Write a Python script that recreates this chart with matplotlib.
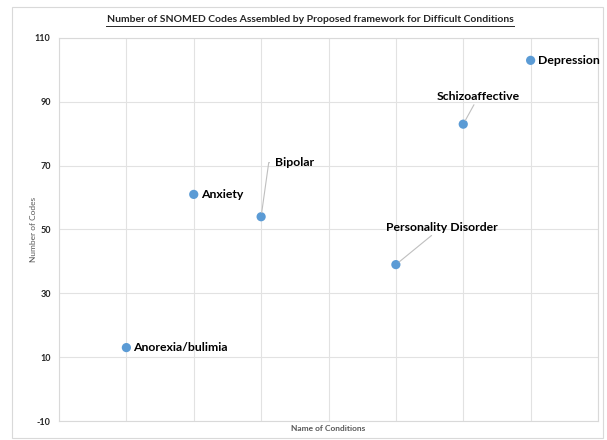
import matplotlib
matplotlib.use("Agg")
import matplotlib.pyplot as plt
from matplotlib.patches import Rectangle

plt.rcParams['font.family'] = ['Lato', 'DejaVu Sans']
plt.rcParams['axes.unicode_minus'] = False

conditions = ["Anorexia/bulimia", "Anxiety", "Bipolar", "Personality Disorder", "Schizoaffective", "Depression"]
x_pos = [1, 2, 3, 5, 6, 7]
codes = [13, 61, 54, 39, 83, 103]
y_ticks = [-10, 10, 30, 50, 70, 90, 110]

fig = plt.figure(figsize=(6.07, 4.40), dpi=100)
fig.patches.append(Rectangle((12/607, 2/440), 591/607, 431/440, transform=fig.transFigure,
                             fill=False, edgecolor='#D9D9D9', linewidth=0.8))
ax = fig.add_axes([59/607, 1-421/440, (598-59)/607, (421-38)/440])
ax.set_xlim(0, 8)
ax.set_ylim(-10, 110)
ax.set_yticks(y_ticks)
ax.set_xticks(range(0, 9))
ax.set_xticklabels([])
ax.tick_params(axis='x', length=0)
ax.tick_params(axis='y', length=0, labelsize=6.5, colors='#262626', pad=6)
for lab in ax.get_yticklabels():
    lab.set_fontweight('bold')
ax.grid(True, color='#E2E2E2', linewidth=0.8)
for s in ax.spines.values():
    s.set_color('#D9D9D9')
    s.set_linewidth(0.8)
ax.set_axisbelow(True)

ax.scatter(x_pos, codes, s=44, color='#5B9BD5', zorder=3, edgecolors='none')

lab_kw = dict(fontsize=8.8, fontweight='bold', color='black')
line_kw = dict(arrowstyle='-', color='#BFBFBF', lw=0.8, shrinkA=0, shrinkB=3)
ax.annotate(conditions[0], (x_pos[0], codes[0]), xytext=(5, 0), textcoords='offset points',
            ha='left', va='center', **lab_kw)
ax.annotate(conditions[1], (x_pos[1], codes[1]), xytext=(5, 0), textcoords='offset points',
            ha='left', va='center', **lab_kw)
ax.annotate(conditions[2], (x_pos[2], codes[2]), xytext=(10, 39), textcoords='offset points',
            ha='left', va='center',
            arrowprops=dict(arrowstyle='-', color='#BFBFBF', lw=0.8,
                            connectionstyle='angle,angleA=0,angleB=82,rad=0',
                            shrinkA=2, shrinkB=3), **lab_kw)
ax.annotate(conditions[3], (x_pos[3], codes[3]), xytext=(33, 23), textcoords='offset points',
            ha='center', va='bottom',
            arrowprops=line_kw, **lab_kw)
ax.annotate(conditions[4], (x_pos[4], codes[4]), xytext=(11, 16), textcoords='offset points',
            ha='center', va='bottom',
            arrowprops=line_kw, **lab_kw)
ax.annotate(conditions[5], (x_pos[5], codes[5]), xytext=(5, 0), textcoords='offset points',
            ha='left', va='center', **lab_kw)

fig.text(310/607, 1-20/440, "Number of SNOMED Codes Assembled by Proposed framework for Difficult Conditions",
         ha='center', va='center', fontsize=7.5, fontweight='bold', color='#262626')
fig.add_artist(plt.Line2D([106/607, 514/607], [1-26/440, 1-26/440], color='#262626', lw=0.7))

fig.text(328/607, 1-428/440, "Name of Conditions", ha='center', va='center', fontsize=6,
         fontweight='bold', color='#595959')
fig.text(33/607, 1-229/440, "Number of Codes", ha='center', va='center', fontsize=6,
         rotation=90, color='#595959')

fig.savefig("out.png", dpi=100)
